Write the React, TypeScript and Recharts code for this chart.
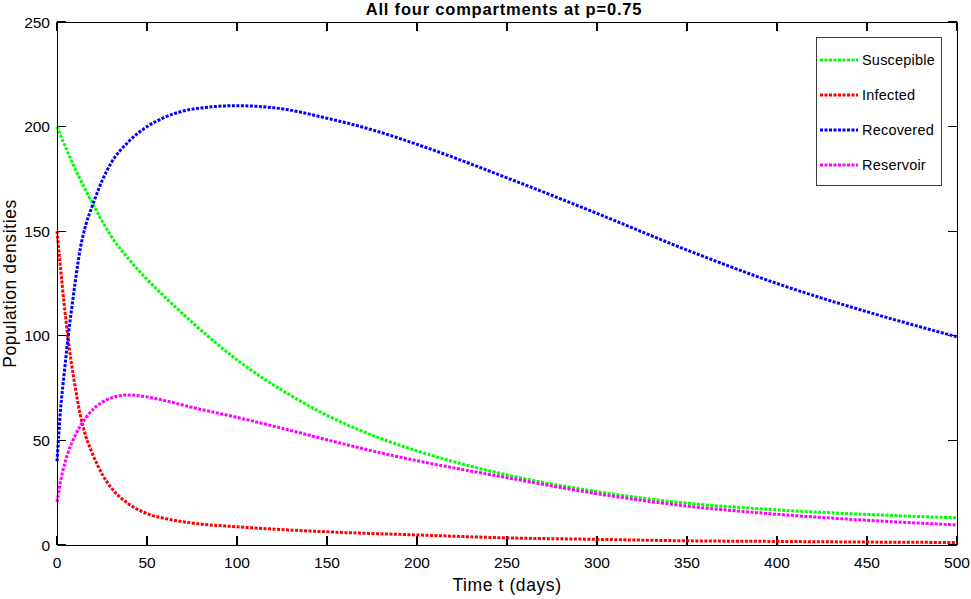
import React from "react"
import { LineChart, Line, XAxis, YAxis, Legend, Label, ReferenceLine } from "recharts"

// time points (days) and the four compartments
const days = [0, 2, 4, 6, 8, 10, 13, 16, 20, 25, 30, 40, 50, 60, 75, 100, 125, 150, 175, 200, 250, 300, 350, 400, 450, 500]
const susceptible = [200, 195.8, 191.7, 187.7, 183.8, 180, 174.6, 169.4, 162.8, 155, 147.8, 136.5, 127, 118.5, 106.5, 88.5, 74, 62, 52.5, 45, 33.5, 25.5, 20, 16.8, 14.6, 13]
const infected = [150, 132, 115, 100, 87, 76, 62, 52, 43, 34, 27.5, 19.5, 15, 12.7, 10.5, 8.7, 7.4, 6.3, 5.5, 4.8, 3.4, 2.7, 2.0, 1.7, 1.4, 1.2]
const recovered = [40, 65, 82, 98, 112, 125, 142, 153, 163, 174, 182.5, 193, 200, 204.5, 208.3, 210, 208.5, 204, 198.5, 191.5, 175.5, 158.5, 141, 125, 111.5, 99.5]
const reservoir = [20.5, 30.5, 38, 43.8, 48.4, 52.2, 57, 60.8, 64.8, 68.2, 70.2, 71.7, 70.8, 69, 65.8, 61, 55.8, 50.3, 45, 40.3, 32.2, 24.5, 18.6, 14.7, 11.8, 9.6]

const xTicks = [0, 50, 100, 150, 200, 250, 300, 350, 400, 450, 500]
const yTicks = [0, 50, 100, 150, 200, 250]

const series = [
  { key: "susceptible", name: "Suscepible", color: "#00ff00" },
  { key: "infected", name: "Infected", color: "#ff0000" },
  { key: "recovered", name: "Recovered", color: "#0000ff" },
  { key: "reservoir", name: "Reservoir", color: "#ff00ff" },
]

const data = days.map((t, i) => ({
  t,
  susceptible: susceptible[i],
  infected: infected[i],
  recovered: recovered[i],
  reservoir: reservoir[i],
}))

const font = "'Liberation Sans', Arial, Helvetica, sans-serif"
const dots = "3 1.5"
// inward tick length, in data units (about 9px on each axis)
const TICK_DX = 5
const TICK_DY = 4.3
const frame = { stroke: "#000", shapeRendering: "crispEdges" as const }
const tickMark = { stroke: "#000", strokeWidth: 1.3, shapeRendering: "crispEdges" as const }

const bottomTick = (props: any) => {
  const { x, y, payload } = props
  return (
    <text x={x} y={y} dy="0.71em" textAnchor="middle" fontSize={15.5} fill="#000" fontFamily={font}>
      {payload.value}
    </text>
  )
}

const leftTick = (props: any) => {
  const { x, y, payload } = props
  return (
    <text x={x} y={y} dy="0.355em" textAnchor="end" fontSize={15.5} fill="#000" fontFamily={font}>
      {payload.value}
    </text>
  )
}

function LegendBox() {
  return (
    <div
      style={{
        width: 126,
        height: 149,
        border: "1px solid #3a3a3a",
        background: "#fff",
        fontFamily: font,
        fontSize: 14.5,
        letterSpacing: 0.2,
        color: "#000",
        boxSizing: "border-box",
        paddingTop: 4,
      }}
    >
      {series.map((s) => (
        <div key={s.key} style={{ display: "flex", alignItems: "center", height: 35 }}>
          <svg width={42} height={6} style={{ marginLeft: 3 }}>
            <line x1={0} y1={3} x2={38} y2={3} stroke={s.color} strokeWidth={3} strokeDasharray={dots} />
          </svg>
          <span>{s.name}</span>
        </div>
      ))}
    </div>
  )
}

export default function App() {
  return (
    <div style={{ position: "absolute", left: 0, top: 0, width: 971, height: 599, background: "#fff", fontFamily: font }}>
      <div
        style={{
          position: "absolute",
          left: 504,
          top: 0,
          transform: "translateX(-50%)",
          fontWeight: "bold",
          fontSize: 16.5,
          letterSpacing: 0.8,
          whiteSpace: "nowrap",
        }}
      >
        All four compartments at p=0.75
      </div>
      <LineChart width={971} height={599} data={data} margin={{ top: 0, right: 0, bottom: 0, left: 0 }}>
        <XAxis
          dataKey="t"
          type="number"
          domain={[0, 500]}
          ticks={xTicks}
          interval={0}
          height={54}
          tickSize={0}
          tickMargin={12}
          tick={bottomTick}
          tickLine={false}
          axisLine={frame}
        >
          <Label
            value="Time t (days)"
            position="insideBottom"
            offset={8}
            style={{ fontSize: 17.5, letterSpacing: 0.6, fill: "#000", fontFamily: font }}
          />
        </XAxis>
        <XAxis
          xAxisId="top"
          dataKey="t"
          type="number"
          orientation="top"
          domain={[0, 500]}
          ticks={xTicks}
          height={22}
          tick={false}
          tickLine={false}
          axisLine={frame}
        />
        <YAxis
          type="number"
          domain={[0, 250]}
          ticks={yTicks}
          interval={0}
          width={57}
          tickSize={0}
          tickMargin={7}
          tick={leftTick}
          tickLine={false}
          axisLine={frame}
        >
          <Label
            value="Population densities"
            angle={-90}
            position="insideLeft"
            offset={10}
            style={{ fontSize: 17.5, letterSpacing: 0.6, fill: "#000", fontFamily: font, textAnchor: "middle" }}
          />
        </YAxis>
        <YAxis
          yAxisId="right"
          orientation="right"
          type="number"
          domain={[0, 250]}
          ticks={yTicks}
          width={14}
          tick={false}
          tickLine={false}
          axisLine={frame}
        />
        {xTicks.map((v) => (
          <ReferenceLine key={`xb${v}`} segment={[{ x: v, y: TICK_DY }, { x: v, y: 0 }]} {...tickMark} ifOverflow="visible" />
        ))}
        {xTicks.map((v) => (
          <ReferenceLine key={`xt${v}`} segment={[{ x: v, y: 250 - TICK_DY }, { x: v, y: 250 }]} {...tickMark} ifOverflow="visible" />
        ))}
        {yTicks.map((v) => (
          <ReferenceLine key={`yl${v}`} segment={[{ x: TICK_DX, y: v }, { x: 0, y: v }]} {...tickMark} ifOverflow="visible" />
        ))}
        {yTicks.map((v) => (
          <ReferenceLine key={`yr${v}`} segment={[{ x: 500, y: v }, { x: 500 - TICK_DX, y: v }]} {...tickMark} ifOverflow="visible" />
        ))}
        <Legend
          layout="vertical"
          align="center"
          verticalAlign="middle"
          content={() => <LegendBox />}
          wrapperStyle={{ left: 816, top: 37, width: 126, height: 149 }}
        />
        {series.map((s) => (
          <Line
            key={s.key}
            type="monotone"
            dataKey={s.key}
            name={s.name}
            stroke={s.color}
            strokeWidth={3}
            strokeDasharray={dots}
            dot={false}
            activeDot={false}
            isAnimationActive={false}
          />
        ))}
      </LineChart>
    </div>
  )
}
